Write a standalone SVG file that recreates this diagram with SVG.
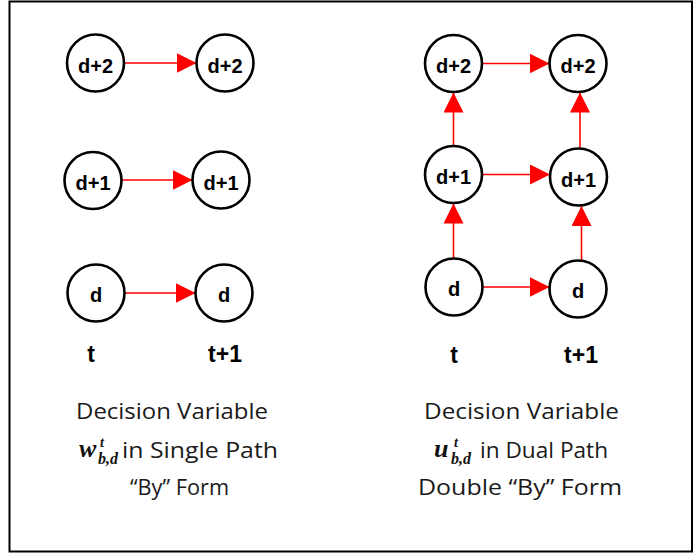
<svg xmlns="http://www.w3.org/2000/svg" width="693" height="554" viewBox="0 0 693 554">
<defs>
<marker id="ah" markerUnits="userSpaceOnUse" markerWidth="20" markerHeight="20" refX="20" refY="10" orient="auto">
<path d="M0,0 L20,10 L0,20 z" fill="#ff0000"/>
</marker>
<style>
.n circle{fill:#fff;stroke:#000;stroke-width:2.6}
.n text{font-family:"Liberation Sans",Arial,sans-serif;font-weight:bold;font-size:20px;text-anchor:middle;fill:#000}
.c line{stroke:#ff0000;stroke-width:1.6;marker-end:url(#ah)}
.tl{font-family:"Liberation Sans",Arial,sans-serif;font-weight:bold;font-size:23px;text-anchor:middle;fill:#000}
.cap{font-family:"Open Sans","Liberation Sans",sans-serif;font-size:21px;fill:#1a1a1a}
.m{font-family:"Liberation Serif","Times New Roman",serif;font-weight:bold;font-style:italic;fill:#111}
</style>
</defs>
<rect width="693" height="554" fill="#fff"/>
<rect x="9.5" y="1.5" width="682.5" height="550" fill="none" stroke="#000" stroke-width="2"/>

<g id="connectors" class="c">
<line x1="124" y1="63" x2="196.5" y2="63"/>
<line x1="121.5" y1="180" x2="192.5" y2="180"/>
<line x1="124.5" y1="293" x2="195.5" y2="293"/>
<line x1="482" y1="63.5" x2="549.5" y2="63.5"/>
<line x1="482" y1="174.5" x2="550" y2="174.5"/>
<line x1="482.5" y1="287" x2="549.5" y2="287"/>
<line x1="453.5" y1="146" x2="453.5" y2="92.5"/>
<line x1="453.5" y1="258" x2="453.5" y2="203.5"/>
<line x1="580" y1="148.5" x2="580" y2="92.5"/>
<line x1="581.5" y1="260" x2="581.5" y2="206"/>
</g>

<g id="L_d2_t" class="n"><circle cx="95.5" cy="63" r="28.5"/><text x="95.5" y="72.5">d+2</text></g>
<g id="L_d2_t1" class="n"><circle cx="225" cy="63" r="28.5"/><text x="225" y="72.5">d+2</text></g>
<g id="L_d1_t" class="n"><circle cx="93" cy="180.5" r="28.5"/><text x="93" y="190">d+1</text></g>
<g id="L_d1_t1" class="n"><circle cx="221" cy="180" r="28.5"/><text x="221" y="189.5">d+1</text></g>
<g id="L_d_t" class="n"><circle cx="96" cy="293" r="28.5"/><text x="96" y="302">d</text></g>
<g id="L_d_t1" class="n"><circle cx="224" cy="293" r="28.5"/><text x="224" y="302">d</text></g>

<g id="R_d2_t" class="n"><circle cx="453.5" cy="63.5" r="28.5"/><text x="453.5" y="73">d+2</text></g>
<g id="R_d2_t1" class="n"><circle cx="578" cy="63.5" r="28.5"/><text x="578" y="73">d+2</text></g>
<g id="R_d1_t" class="n"><circle cx="453.5" cy="174.5" r="28.5"/><text x="453.5" y="184">d+1</text></g>
<g id="R_d1_t1" class="n"><circle cx="578.5" cy="177" r="28.5"/><text x="578.5" y="186.5">d+1</text></g>
<g id="R_d_t" class="n"><circle cx="454" cy="287" r="28.5"/><text x="454" y="296">d</text></g>
<g id="R_d_t1" class="n"><circle cx="578" cy="289" r="28.5"/><text x="578" y="298">d</text></g>

<g id="time_labels">
<text class="tl" x="91" y="362">t</text>
<text class="tl" x="225" y="362">t+1</text>
<text class="tl" x="454" y="363">t</text>
<text class="tl" x="581" y="363">t+1</text>
</g>

<g id="caption_left">
<text class="cap" x="76" y="419" textLength="192" lengthAdjust="spacingAndGlyphs">Decision Variable</text>
<text class="m" x="79" y="457" style="font-size:26px">w</text>
<text class="m" x="100" y="447" style="font-size:14px">t</text>
<text class="m" x="98" y="464" style="font-size:16px">b,d</text>
<text class="cap" x="122" y="458" textLength="156" lengthAdjust="spacingAndGlyphs">in Single Path</text>
<text class="cap" x="130" y="495" textLength="99" lengthAdjust="spacingAndGlyphs">“By” Form</text>
</g>

<g id="caption_right">
<text class="cap" x="424" y="419" textLength="195" lengthAdjust="spacingAndGlyphs">Decision Variable</text>
<text class="m" x="434" y="457" style="font-size:26px">u</text>
<text class="m" x="454" y="447" style="font-size:14px">t</text>
<text class="m" x="451" y="464" style="font-size:16px">b,d</text>
<text class="cap" x="480" y="458" textLength="128" lengthAdjust="spacingAndGlyphs">in Dual Path</text>
<text class="cap" x="418" y="495" textLength="204" lengthAdjust="spacingAndGlyphs">Double “By” Form</text>
</g>
</svg>
